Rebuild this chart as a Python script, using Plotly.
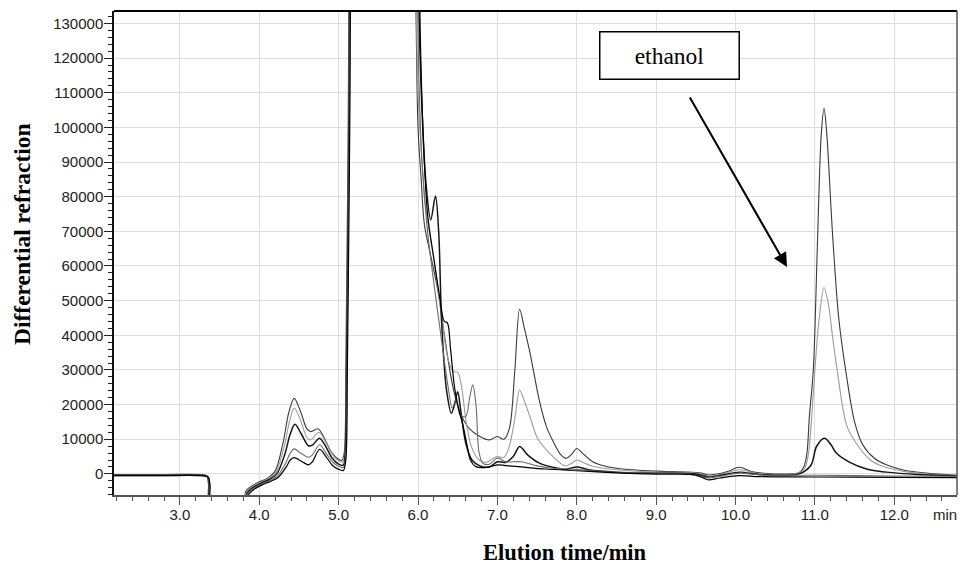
import plotly.graph_objects as go

# ---------------- data ----------------
t_a = [2.17, 2.8, 3.3, 3.34, 3.36, 3.38, 3.80, 3.83, 3.9, 4.0, 4.1, 4.2, 4.3, 4.37, 4.44, 4.52, 4.6, 4.65,
       4.74, 4.82, 4.9, 4.98, 5.04, 5.07, 5.09, 5.12, 5.15, 5.5, 5.95, 6.0, 6.04, 6.08, 6.15, 6.25, 6.32, 6.4,
       6.45, 6.53, 6.65, 6.78, 6.9, 7.0, 7.08, 7.15, 7.22, 7.28, 7.34, 7.41, 7.53, 7.62, 7.7, 7.8, 7.87, 7.93,
       8.0, 8.07, 8.2, 8.4, 8.7, 9.0, 9.4, 9.55, 9.65, 9.75, 9.9, 10.05, 10.2, 10.4, 10.7, 10.8, 10.86, 10.9,
       10.93, 10.98, 11.03, 11.08, 11.115, 11.15, 11.22, 11.3, 11.4, 11.5, 11.6, 11.75, 11.9, 12.1, 12.4, 12.79]
v_a = [-200, -200, -250, -600, -3000, -9000, -9000, -5000, -3600, -2300, -1300, 800, 9000, 17500, 21800, 18000,
       13000, 12200, 13000, 10300, 6600, 4500, 3900, 6000, 30000, 100000, 180000, 400000, 160000, 100000, 85000,
       72000, 64000, 53000, 42000, 30000, 24000, 17600, 13000, 10800, 9800, 10800, 10000, 13000, 30000, 47500,
       42000, 35000, 21000, 13500, 9500, 5500, 4500, 5500, 7300, 6000, 3500, 2000, 1200, 800, 500, 300, -300,
       -100, 700, 1900, 700, 100, 0, 300, 2000, 6000, 16500, 30000, 65000, 98000, 105500, 98000, 70000, 45000,
       28000, 15000, 8500, 4500, 2600, 1200, 200, -400]

t_b = [2.17, 2.8, 3.3, 3.345, 3.365, 3.385, 3.81, 3.84, 3.91, 4.01, 4.11, 4.21, 4.31, 4.38, 4.44, 4.52, 4.6,
       4.65, 4.75, 4.83, 4.91, 4.99, 5.05, 5.075, 5.095, 5.125, 5.155, 5.5, 5.95, 6.0, 6.05, 6.1, 6.2, 6.3, 6.38,
       6.45, 6.5, 6.55, 6.6, 6.67, 6.75, 6.85, 6.95, 7.0, 7.08, 7.15, 7.22, 7.28, 7.34, 7.41, 7.5, 7.58, 7.7,
       7.85, 7.93, 8.0, 8.08, 8.2, 8.5, 9.0, 9.5, 9.65, 9.8, 10.05, 10.3, 10.75, 10.84, 10.88, 10.92, 10.96,
       11.0, 11.05, 11.115, 11.17, 11.22, 11.28, 11.4, 11.52, 11.7, 11.86, 12.1, 12.4, 12.79]
v_b = [-300, -300, -350, -700, -3000, -9000, -9000, -5200, -3800, -2500, -1500, 500, 7500, 15000, 19000,
       15500, 10500, 9800, 12000, 9500, 6000, 3900, 3400, 5500, 30000, 100000, 180000, 400000, 170000, 110000,
       90000, 76000, 62000, 45000, 33000, 29500, 29300, 25000, 16000, 8000, 4500, 3300, 4500, 5000, 4700, 8000,
       16000, 24200, 21000, 16500, 10500, 7900, 5000, 2300, 3000, 4000, 3300, 2200, 1200, 500, 200, -600, -300,
       1200, 0, 0, 800, 2000, 6000, 16500, 30000, 44000, 53800, 49000, 40000, 30000, 14000, 8850, 4000, 2100,
       800, 0, -500]

t_c = [2.17, 2.8, 3.3, 3.35, 3.37, 3.39, 3.82, 3.85, 3.92, 4.02, 4.12, 4.22, 4.32, 4.39, 4.45, 4.53, 4.62,
       4.67, 4.76, 4.84, 4.92, 5.0, 5.06, 5.08, 5.1, 5.13, 5.16, 5.5, 5.97, 6.02, 6.06, 6.1, 6.16, 6.22, 6.26,
       6.3, 6.36, 6.42, 6.46, 6.5, 6.54, 6.6, 6.68, 6.78, 6.9, 7.0, 7.1, 7.2, 7.28, 7.38, 7.53, 7.7, 7.85, 8.0,
       8.15, 8.5, 9.0, 9.5, 9.65, 9.8, 10.05, 10.3, 10.8, 10.95, 11.02, 11.12, 11.2, 11.27, 11.44, 11.65, 11.9,
       12.3, 12.79]
v_c = [-400, -400, -450, -800, -3000, -9000, -9000, -5400, -4000, -2700, -1700, 0, 5500, 11500, 14300, 11500,
       8100, 8300, 10300, 7800, 4500, 2800, 2500, 5000, 30000, 100000, 180000, 400000, 190000, 125000, 100000,
       84000, 73300, 80200, 70000, 42500, 24000, 17500, 20000, 23700, 18000, 9000, 4000, 2300, 2000, 3500, 3300,
       5000, 7900, 5500, 3100, 1900, 1300, 2000, 1200, 500, 200, 0, -900, -500, 500, -200, 0, 2500, 7900, 10300,
       8500, 6000, 3300, 1400, 500, -200, -600]

t_d = [2.17, 2.8, 3.3, 3.355, 3.375, 3.395, 3.83, 3.86, 3.93, 4.03, 4.13, 4.23, 4.33, 4.39, 4.44, 4.52, 4.62,
       4.67, 4.76, 4.84, 4.92, 5.0, 5.06, 5.085, 5.105, 5.135, 5.165, 5.5, 5.96, 6.01, 6.05, 6.12, 6.2, 6.3,
       6.38, 6.43, 6.48, 6.53, 6.6, 6.65, 6.69, 6.73, 6.77, 6.82, 6.9, 7.0, 7.1, 7.3, 7.5, 7.7, 8.0, 8.3, 8.8,
       9.4, 9.65, 9.8, 10.05, 10.3, 11.0, 12.0, 12.79]
v_d = [-500, -500, -550, -900, -3200, -9000, -9000, -5600, -4200, -2900, -2000, -600, 3000, 6000, 7200, 6000,
       4800, 5500, 8400, 6000, 3500, 2200, 1800, 4500, 30000, 100000, 180000, 400000, 180000, 115000, 90000,
       70000, 55000, 38000, 25000, 19000, 21500, 17000, 16500, 22000, 25700, 20000, 6000, 3000, 2800, 4600,
       3500, 3500, 2300, 1600, 1300, 700, 200, 0, -1200, -700, 200, -300, -400, -600, -700]

t_e = [2.17, 2.8, 3.3, 3.36, 3.38, 3.40, 3.84, 3.87, 3.94, 4.04, 4.14, 4.24, 4.34, 4.39, 4.44, 4.52, 4.62,
       4.67, 4.76, 4.84, 4.92, 5.0, 5.06, 5.09, 5.11, 5.14, 5.17, 5.5, 5.98, 6.03, 6.07, 6.12, 6.2, 6.28, 6.33,
       6.37, 6.41, 6.46, 6.52, 6.57, 6.62, 6.66, 6.72, 6.85, 7.0, 7.1, 7.3, 7.6, 8.0, 8.5, 9.0, 9.5, 9.65,
       9.8, 10.05, 10.3, 11.0, 12.0, 12.79]
v_e = [-500, -500, -600, -1000, -3400, -9000, -9000, -5800, -4400, -3100, -2200, -1000, 2000, 4000, 4700,
       3800, 2600, 3500, 7100, 5000, 2500, 1300, 1000, 4000, 30000, 100000, 180000, 400000, 200000, 125000,
       95000, 75000, 62000, 50000, 44000, 43600, 36000, 25000, 18000, 13600, 8000, 4000, 2200, 1800, 2600, 2400,
       2000, 1400, 900, 300, -100, -300, -1700, -1200, -500, -800, -900, -1000, -1100]

series = [
    ("A", t_a, v_a, "#3a3a3a", 1.1),
    ("B", t_b, v_b, "#9c9c9c", 1.1),
    ("C", t_c, v_c, "#161616", 1.5),
    ("D", t_d, v_d, "#6c6c6c", 1.1),
    ("E", t_e, v_e, "#000000", 1.2),
]

x_range = [2.17, 12.79]
y_range = [-6100, 133600]

# ---------------- layout geometry (pixels) ----------------
W, H = 961, 564
L, R, T, B = 114, 957, 11, 495


def px(xp):
    return (xp - L) / (R - L)


def py(yp):
    return (B - yp) / (B - T)


fig = go.Figure()
for name, t, v, col, w in series:
    fig.add_trace(go.Scatter(x=t, y=v, mode="lines", name=name,
                             line=dict(color=col, width=w, shape="spline", smoothing=0.9),
                             showlegend=False, hoverinfo="skip"))

tickfont = dict(family="Liberation Sans, Arial", size=15, color="#222")
serif = "Liberation Serif, Times New Roman"
fig.update_layout(
    width=W, height=H,
    margin=dict(l=L, r=W - R, t=T, b=H - B),
    paper_bgcolor="white", plot_bgcolor="white",
    xaxis=dict(range=x_range, tick0=3, dtick=1, tickformat=".1f",
               ticks="outside", ticklen=8, tickwidth=1.3, tickcolor="#555",
               showline=True, linecolor="#555", linewidth=2,
               showgrid=True, gridcolor="#dedede", gridwidth=1, zeroline=False,
               tickfont=tickfont, ticklabelstandoff=-3,
               minor=dict(dtick=0.2, tick0=3, ticks="outside", ticklen=4, tickcolor="#555", tickwidth=1.2,
                          showgrid=False)),
    yaxis=dict(range=y_range, tick0=0, dtick=10000, tickformat="d",
               ticks="outside", ticklen=8, tickwidth=1.3, tickcolor="#222",
               showline=True, linecolor="#111", linewidth=1.5,
               showgrid=True, gridcolor="#dedede", gridwidth=1, zeroline=False,
               tickfont=tickfont, ticklabelstandoff=-2,
               minor=dict(dtick=2000, tick0=0, ticks="outside", ticklen=4, tickcolor="#222", tickwidth=1,
                          showgrid=False)),
    shapes=[
        dict(type="line", xref="paper", yref="paper", x0=0, x1=1, y0=1, y1=1,
             line=dict(color="#000", width=2)),
        dict(type="line", xref="paper", yref="paper", x0=1, x1=1, y0=0, y1=1,
             line=dict(color="#555", width=1.5)),
    ],
    annotations=[
        dict(xref="paper", yref="paper", x=px(22), y=py(234), xanchor="center", yanchor="middle",
             text="<b>Differential refraction</b>", textangle=-90, showarrow=False,
             font=dict(family=serif, size=23.5, color="#000")),
        dict(xref="paper", yref="paper", x=px(565), y=py(552), xanchor="center", yanchor="middle",
             text="<b>Elution time/min</b>", showarrow=False,
             font=dict(family=serif, size=22.5, color="#000")),
        dict(xref="paper", yref="paper", x=px(945), y=py(514), xanchor="center", yanchor="middle",
             text="min", showarrow=False, font=tickfont),
        dict(xref="paper", yref="paper", x=px(669.5), y=py(56), xanchor="center", yanchor="middle",
             text="ethanol", showarrow=False,
             width=134, height=42, borderpad=2, bordercolor="#000", borderwidth=1.5, bgcolor="white",
             font=dict(family=serif, size=23.5, color="#000")),
        dict(xref="paper", yref="paper", x=px(787), y=py(267), text="", showarrow=True,
             ax=689 - 787, ay=96 - 267, axref="pixel", ayref="pixel",
             arrowhead=2, arrowsize=1.4, arrowwidth=2, arrowcolor="#000", standoff=0),
    ],
)

fig.write_html("out.html")
